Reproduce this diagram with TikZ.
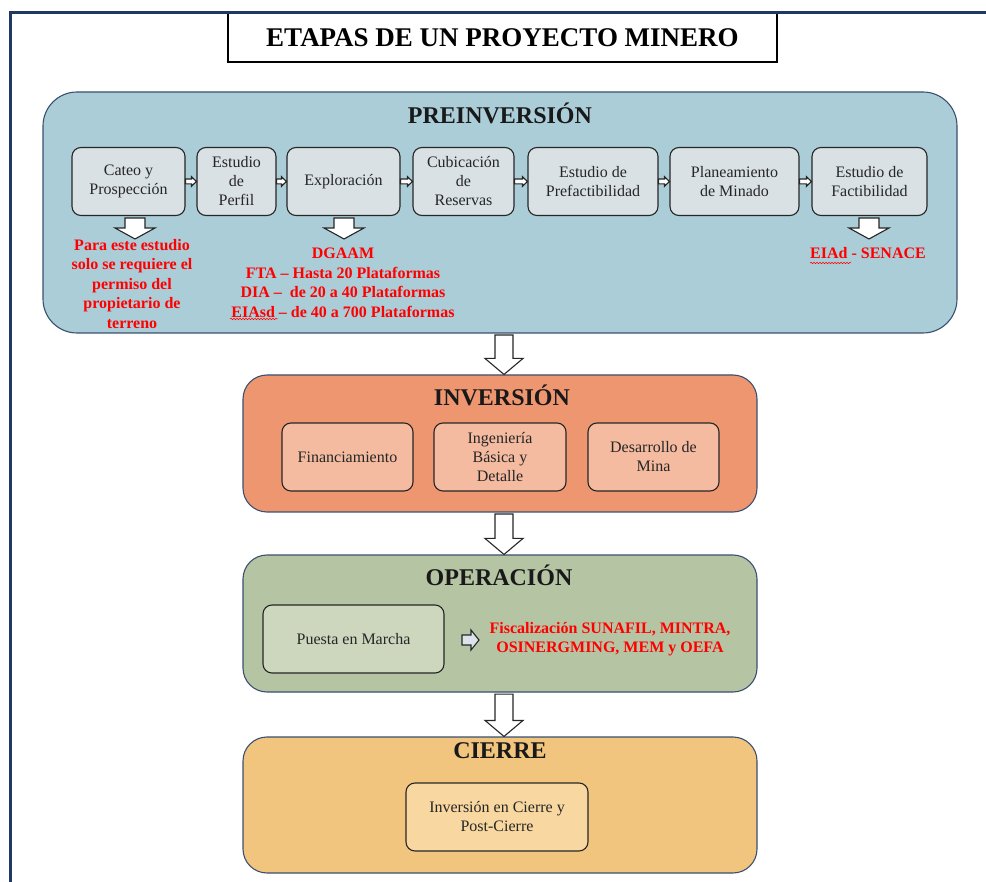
\documentclass[tikz,border=0pt]{standalone}
\usepackage{fontspec}
\setmainfont{Liberation Serif}
\usetikzlibrary{calc,decorations.pathmorphing}

\definecolor{framenavy}{HTML}{1F3864}
\definecolor{panelline}{HTML}{3A5070}
\definecolor{preblue}{HTML}{ABCDD8}
\definecolor{stepgray}{HTML}{D9E1E4}
\definecolor{invorange}{HTML}{EE9670}
\definecolor{invlight}{HTML}{F4BBA0}
\definecolor{opgreen}{HTML}{B5C4A3}
\definecolor{oplight}{HTML}{CDD7BD}
\definecolor{cierreamber}{HTML}{F2C57F}
\definecolor{cierrelight}{HTML}{F8D8A0}
\definecolor{alertred}{HTML}{FF0000}
\definecolor{arrowfill}{HTML}{DCE3EA}

\newcommand\stepfont{\rmfamily\fontsize{16}{19}\selectfont}
\newcommand\notefont{\rmfamily\bfseries\fontsize{16}{19.5}\selectfont}
\newcommand\phasefont{\rmfamily\bfseries\fontsize{24}{28}\selectfont}

% vertical block arrow: top point, tip point, shaft half width, head half width, head length
\newcommand\dnarrow[6][]{%
  \draw[blockarr,#1] let \p1=(#2), \p2=(#3) in
    (\x1-#4,\y1) -- (\x1+#4,\y1) -- (\x1+#4,\y2+#6) -- (\x1+#5,\y2+#6) --
    (\x1,\y2) -- (\x1-#5,\y2+#6) -- (\x1-#4,\y2+#6) -- cycle;}
% horizontal block arrow: tail point, tip point, shaft half width, head half width, head length
\newcommand\rtarrow[6][]{%
  \draw[blockarr,#1] let \p1=(#2), \p2=(#3) in
    (\x1,\y1+#4) -- (\x2-#6,\y1+#4) -- (\x2-#6,\y1+#5) -- (\x2,\y1) --
    (\x2-#6,\y1-#5) -- (\x2-#6,\y1-#4) -- (\x1,\y1-#4) -- cycle;}

\begin{document}
\begin{tikzpicture}[x=1pt,y=-1pt,
  blockarr/.style={draw=black!85, line width=1.1pt, fill=white, line join=miter},
  panel/.style={draw=panelline, line width=1.1pt, rounded corners=24pt, inner sep=0pt},
  stepbox/.style={draw=black!85, line width=1.1pt, rounded corners=9pt,
    align=center, font=\stepfont, text=black!85, inner sep=1pt, minimum height=68pt},
  phasetitle/.style={font=\phasefont, text=black!90, inner sep=0pt},
  note/.style={font=\notefont, text=alertred, align=center, inner sep=0pt},
  squiggle/.style={alertred, line width=0.5pt, decorate,
    decoration={snake, amplitude=0.8pt, segment length=3pt}}]

\useasboundingbox (0,0) rectangle (986,882);

% heading
\node[draw=black, line width=2pt, minimum width=549pt, minimum height=49pt, inner sep=0pt]
  (head) at (502.5,37.5) {};
\node[font=\rmfamily\bfseries\fontsize{27}{30}\selectfont, inner sep=0pt] (headtxt) at (head.center)
  {ETAPAS DE UN PROYECTO MINERO};

% page frame
\draw[framenavy, line width=3pt] (10.5,882) -- (10.5,12.5) -- (986,12.5);

% ---------- PREINVERSION ----------
\node[panel, rounded corners=34pt, fill=preblue, minimum width=914pt, minimum height=241pt]
  (pre) at (500,212.5) {};
\node[phasetitle] (pretitle) at (500,113) {PREINVERSIÓN};

\node[stepbox, fill=stepgray, minimum width=113pt] (cateo)  at (128.5,181.5) {Cateo y\\Prospección};
\node[stepbox, fill=stepgray, minimum width=79pt]  (perfil) at (236.5,181.5) {Estudio\\de\\Perfil};
\node[stepbox, fill=stepgray, minimum width=113pt] (explo)  at (343.5,181.5) {Exploración};
\node[stepbox, fill=stepgray, minimum width=101pt] (cubic)  at (463.5,181.5) {Cubicación\\de\\Reservas};
\node[stepbox, fill=stepgray, minimum width=130pt] (prefac) at (593,181.5)   {Estudio de\\Prefactibilidad};
\node[stepbox, fill=stepgray, minimum width=129pt] (plan)   at (734.5,181.5) {Planeamiento\\de Minado};
\node[stepbox, fill=stepgray, minimum width=115pt] (fact)   at (869.5,181.5) {Estudio de\\Factibilidad};

\foreach \a/\b in {cateo/perfil, perfil/explo, explo/cubic, cubic/prefac, prefac/plan, plan/fact}
  \rtarrow[fill=white, line width=1.2pt]{\a.east}{\b.west}{2.4pt}{4.8pt}{5pt};

\node[note] (cateonote) at (132,284)
  {Para este estudio\\solo se requiere el\\permiso del\\propietario de\\terreno};
\node[note] (exploNote) at (343,283)
  {DGAAM\\FTA – Hasta 20 Plataformas\\DIA – \ de 20 a 40 Plataformas\\EIAsd – de 40 a 700 Plataformas};
\node[note] (factnote) at (868,253) {EIAd - SENACE};

\coordinate (cateotip) at (135,239);
\coordinate (explotip) at (344,239);
\coordinate (facttip)  at (869,239);
\dnarrow{[yshift=-2pt]cateo.south -| cateotip}{cateotip}{10pt}{20pt}{11pt}
\dnarrow{[yshift=-2pt]explo.south -| explotip}{explotip}{10pt}{20pt}{11pt}
\dnarrow{[yshift=-2pt]fact.south -| facttip}{facttip}{10pt}{20pt}{11pt}

\draw[squiggle] (230,319) -- (278,319);
\draw[squiggle] (810,263) -- (851,263);

% ---------- INVERSION ----------
\node[panel, fill=invorange, minimum width=514pt, minimum height=137pt] (inv) at (500,443.5) {};
\node[phasetitle] (invtitle) at (502,395) {INVERSIÓN};
\node[stepbox, fill=invlight, minimum width=131pt] (fin) at (347.5,457) {Financiamiento};
\node[stepbox, fill=invlight, minimum width=132pt] (ing) at (500,457)   {Ingeniería\\Básica y\\Detalle};
\node[stepbox, fill=invlight, minimum width=131pt] (des) at (653.5,457) {Desarrollo de\\Mina};

% ---------- OPERACION ----------
\node[panel, fill=opgreen, minimum width=514pt, minimum height=137pt] (op) at (500,623.5) {};
\node[phasetitle] (optitle) at (499,575) {OPERACIÓN};
\node[stepbox, fill=oplight, minimum width=181pt] (puesta) at (353.5,639) {Puesta en Marcha};
\node[note] (opnote) at (610,639) {Fiscalización SUNAFIL, MINTRA,\\OSINERGMING, MEM y OEFA};
\coordinate (optail) at (462,640);
\coordinate (optip)  at (479,640);
\rtarrow[fill=arrowfill]{optail}{optip}{5pt}{10pt}{8pt}

% ---------- CIERRE ----------
\node[panel, fill=cierreamber, minimum width=514pt, minimum height=136pt] (cie) at (500,805) {};
\node[phasetitle] (cietitle) at (500,751) {CIERRE};
\node[stepbox, fill=cierrelight, minimum width=182pt] (postc) at (497,817)
  {Inversión en Cierre y\\Post-Cierre};

% ---------- links between phases ----------
\dnarrow{[xshift=4pt,yshift=-1.5pt]pre.south}{[xshift=4pt]inv.north}{9pt}{19pt}{16pt}
\dnarrow{[xshift=4pt,yshift=-1.5pt]inv.south}{[xshift=4pt]op.north}{9pt}{19pt}{16pt}
\dnarrow{[xshift=4pt,yshift=-1.5pt]op.south}{[xshift=4pt]cie.north}{9pt}{19pt}{16pt}

\end{tikzpicture}
\end{document}
